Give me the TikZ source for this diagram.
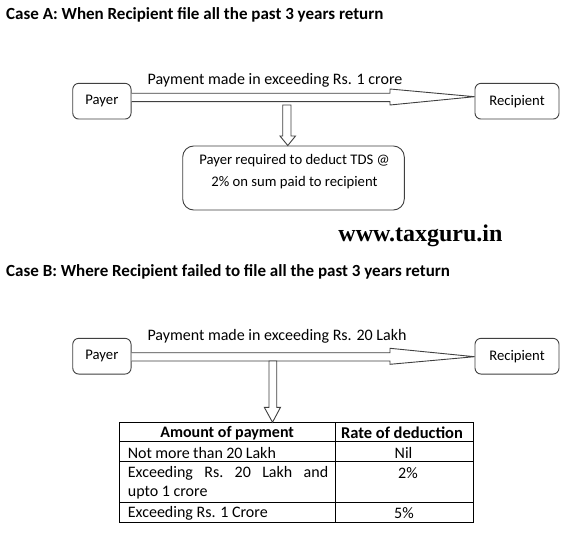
\documentclass[tikz,border=0pt]{standalone}
\usepackage{fontspec}
\setmainfont{Carlito}
\newfontfamily\webfont{Liberation Serif}
\usetikzlibrary{calc}
\begin{document}
\begin{tikzpicture}[x=1pt,y=-1pt,
  font=\fontsize{16}{19}\selectfont,
  box/.style={draw=black!75, rounded corners=6pt, line width=0.9pt, inner sep=0pt, align=center,
    font=\fontsize{14.67}{17.6}\selectfont},
  bigbox/.style={box, rounded corners=11pt},
  blockarrow/.style={draw=black!75, line width=0.9pt, fill=white, line join=miter},
  title/.style={anchor=west, inner sep=0pt, font=\fontsize{17}{20}\selectfont\bfseries},
  tabline/.style={draw=black, line width=0.9pt},
  celltext/.style={inner sep=0pt},
  headtext/.style={inner sep=0pt, font=\fontsize{16}{19}\selectfont\bfseries}]
\useasboundingbox (0,0) rectangle (575,540);
\fill[white] (0,0) rectangle (575,540);

% ---------- Case A ----------
\node[title] (ta) at (6,15) {Case A: When Recipient file all the past 3 years return};
\node[box, minimum width=58.3pt, minimum height=35.7pt] (pa) at (101.9,101.2) {Payer};
\node[box, minimum width=84pt, minimum height=35.7pt] (ra) at (517,101.2) {Recipient};
% horizontal block arrow A
\draw[blockarrow]
  ($(pa.east)+(0,-7.9)$) -- (390,93.3) -- (390,89) -- ($(ra.west)+(0,-4.5)$)
  -- (390,105) -- (390,101.7) -- ($(pa.east)+(0,0.5)$);
\node[celltext] (la) at (275,80.7) {Payment made in exceeding Rs. 1 crore};
\node[bigbox, minimum width=221.6pt, minimum height=64pt] (tds) at (293.5,178) {};
\node[celltext, align=center, font=\fontsize{14.67}{17.6}\selectfont] (tdst) at (294.5,171.5) {Payer required to deduct TDS @\\[4.5pt]2\% on sum paid to recipient};
% down block arrow A
\draw[blockarrow]
  (282.7,105) -- (291,105) -- (291,136) -- (295.5,136) -- (tds.north -| 287.8,0)
  -- (280,136) -- (282.7,136) -- cycle;

\node[inner sep=0pt, font=\fontsize{24}{28}\webfont\bfseries] (web) at (420.5,236) {www.taxguru.in};

% ---------- Case B ----------
\node[title] (tb) at (6,272) {Case B: Where Recipient failed to file all the past 3 years return};
\node[box, minimum width=58.3pt, minimum height=35.7pt] (pb) at (101.9,356.2) {Payer};
\node[box, minimum width=84pt, minimum height=35.7pt] (rb) at (517,356.2) {Recipient};
\draw[blockarrow]
  ($(pb.east)+(0,-3.5)$) -- (390,352.7) -- (390,348.3) -- ($(rb.west)+(0,0.5)$)
  -- (390,364.3) -- (390,361) -- ($(pb.east)+(0,4.8)$);
\node[celltext] (lb) at (277,336.7) {Payment made in exceeding Rs. 20 Lakh};

% table
\coordinate (tl) at (119.3,422.3);
\coordinate (br) at (473.3,522.3);
\draw[tabline] (tl) rectangle (br);
\draw[tabline] (335,422.3) -- (335,522.3);
\draw[tabline] (119.3,441.7) -- (473.3,441.7);
\draw[tabline] (119.3,461) -- (473.3,461);
\draw[tabline] (119.3,502.3) -- (473.3,502.3);

% down block arrow B
\draw[blockarrow]
  (269,361) -- (276.7,361) -- (276.7,407.3) -- (280.5,407.3) -- (272.5,422.3)
  -- (264.3,407.3) -- (269,407.3) -- cycle;

\node[headtext] (h1) at (227.2,433) {Amount of payment};
\node[headtext, font=\fontsize{16.5}{19.5}\selectfont\bfseries] (h2) at (402,433) {Rate of deduction};
\node[celltext, anchor=west] (r1a) at (127.7,452.5) {\hbox to 148pt{Not\hfill more\hfill than\hfill 20\hfill Lakh}};
\node[celltext] (r1b) at (403.5,452.5) {Nil};
\node[celltext, anchor=west] (r2a) at (127.7,473.5) {\hbox to 200.3pt{Exceeding\hfill Rs.\hfill 20\hfill Lakh\hfill and}};
\node[celltext, anchor=west] (r2c) at (127.7,493) {upto 1 crore};
\node[celltext] (r2b) at (408,473.5) {2\%};
\node[celltext, anchor=west] (r3a) at (127.7,513.5) {Exceeding Rs. 1 Crore};
\node[celltext] (r3b) at (404,513.5) {5\%};
\end{tikzpicture}
\end{document}
